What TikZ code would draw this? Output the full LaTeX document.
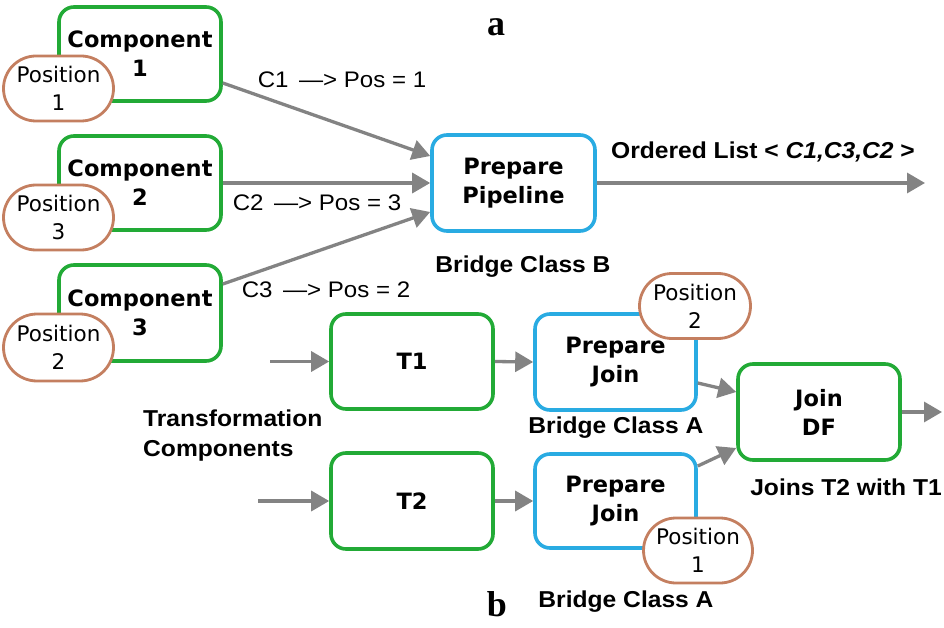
\documentclass[tikz,border=0pt]{standalone}
\usepackage{fontspec}
\usetikzlibrary{arrows.meta,shapes.misc}
\newfontfamily\boxfont{DejaVu Sans}
\newfontfamily\posfont{DejaVu Sans}
\newfontfamily\lblfont[FakeStretch=1.07]{Liberation Sans}
\newfontfamily\serifletter{Liberation Serif}
\definecolor{cgreen}{HTML}{22AA36}
\definecolor{cblue}{HTML}{29ABE2}
\definecolor{cbrown}{HTML}{C47F60}
\definecolor{carrow}{HTML}{838383}
\tikzset{
  gbox/.style={draw=cgreen, line width=3.6pt, rounded corners=15pt, fill=white,
    minimum width=162pt, minimum height=96pt, align=center, inner sep=0pt,
    font=\boxfont\bfseries\fontsize{22.5}{29}\selectfont},
  bbox/.style={gbox, draw=cblue},
  posbox/.style={rounded rectangle, draw=cbrown, line width=2.8pt, fill=white,
    minimum width=110pt, minimum height=65pt, align=center, inner sep=0pt,
    font=\posfont\fontsize{21.5}{28}\selectfont},
  arr/.style={draw=carrow, line width=3.3pt, -{Triangle[length=18pt,width=20pt]}},
  edgelbl/.style={font=\lblfont\fontsize{22.5}{27}\selectfont, inner sep=0pt},
  boldlbl/.style={font=\lblfont\bfseries\fontsize{23}{30}\selectfont, inner sep=0pt},
  letter/.style={font=\serifletter\bfseries\fontsize{36}{36}\selectfont, inner sep=0pt}
}
\begin{document}
\begin{tikzpicture}[x=1pt,y=-1pt]
\useasboundingbox (0,0) rectangle (944,628);
% part a
\node[gbox, minimum height=94pt] (c1) at (140,54) {Component\\1};
\node[gbox, minimum height=94pt] (c2) at (140,183) {Component\\2};
\node[gbox, minimum height=96pt] (c3) at (140,313) {Component\\3};
\node[posbox] (p1) at (58.5,88.5) {Position\\1};
\node[posbox] (p3) at (58.5,217.5) {Position\\3};
\node[posbox, minimum height=67pt] (p2) at (58.5,347.5) {Position\\2};
\node[bbox, minimum width=163pt, minimum height=96pt] (pp) at (513.5,183) {Prepare\\Pipeline};
\coordinate (outa) at (925,183);
\draw[arr] ([yshift=-29pt]c1.east) -- ([yshift=27pt]pp.west);
\draw[arr] (c2.east) -- (pp.west);
\draw[arr] ([yshift=29pt]c3.east) -- ([yshift=-29pt]pp.west);
\draw[arr] (pp.east) -- (outa);
\node[edgelbl] (l1) at (342,80) {C1 \,—> Pos = 1};
\node[edgelbl] (l2) at (317,203) {C2 \,—> Pos = 3};
\node[edgelbl] (l3) at (326,290) {C3 \,—> Pos = 2};
\node[boldlbl] (ol) at (763,152) {Ordered List < \textit{C1,C3,C2} >};
\node[boldlbl] (bcb) at (523,267) {Bridge Class B};
\node[letter] (la) at (496,27) {a};
% part b
\node[gbox, minimum height=95pt] (t1) at (412,361.5) {T1};
\node[gbox, minimum height=96pt] (t2) at (412,501) {T2};
\node[bbox, minimum width=161pt, minimum height=96pt] (pj1) at (615.5,362) {Prepare\\Join};
\node[bbox, minimum width=161pt, minimum height=94pt] (pj2) at (615.5,501) {Prepare\\Join};
\node[gbox, minimum height=96pt] (jdf) at (819,412) {Join\\DF};
\node[posbox, minimum width=111pt] (q2) at (695,306) {Position\\2};
\node[posbox, minimum width=109pt] (q1) at (698,550.5) {Position\\1};
\coordinate (in1) at (270,361.5);
\coordinate (in2) at (258,501);
\coordinate (outb) at (942,412);
\draw[arr] (in1) -- (t1.west);
\draw[arr] (in2) -- (t2.west);
\draw[arr] (t1.east) -- (pj1.west);
\draw[arr] (t2.east) -- (pj2.west);
\draw[arr] ([yshift=-21pt]pj1.east) -- ([yshift=20pt]jdf.west);
\draw[arr] ([yshift=35pt]pj2.east) -- ([yshift=-36pt]jdf.west);
\draw[arr] (jdf.east) -- (outb);
\node[boldlbl, align=left, anchor=west] (tc) at (143,436) {Transformation\\Components};
\node[boldlbl] (bca1) at (616,428) {Bridge Class A};
\node[boldlbl] (bca2) at (626,602) {Bridge Class A};
\node[boldlbl] (jt) at (846,487) {Joins T2 with T1};
\node[letter] (lb) at (497,604) {b};
\end{tikzpicture}
\end{document}
